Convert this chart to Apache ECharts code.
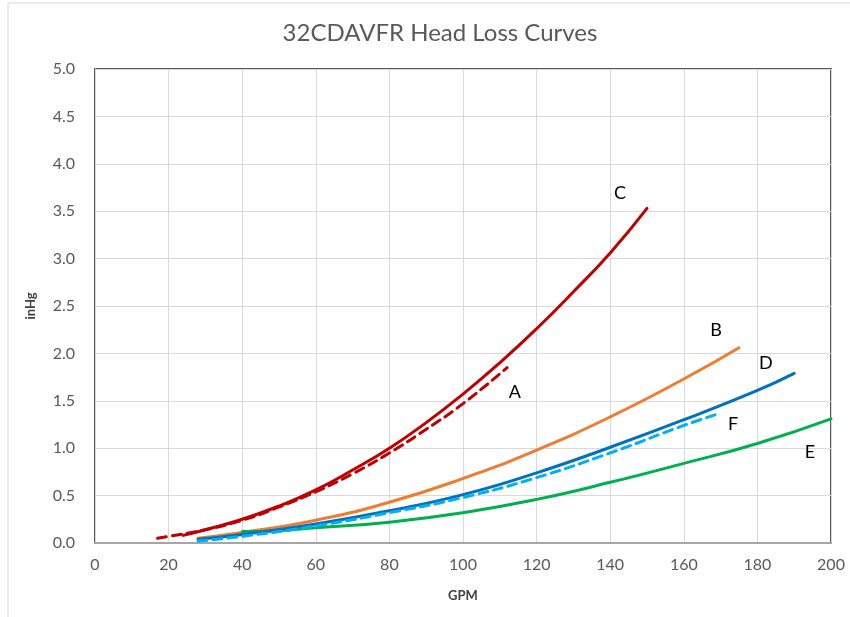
<!DOCTYPE html>
<html>
<head>
    <meta charset="utf-8">
    <title>32CDAVFR Head Loss Curves</title>
    <script src="https://cdn.jsdelivr.net/npm/echarts@6/dist/echarts.min.js"></script>
    <style>
        html, body { margin: 0; padding: 0; background: #fff; }
        #chart { width: 850px; height: 617px; }
    </style>
</head>
<body>
<div id="chart"></div>
<script type="text/javascript">
    // curve data (GPM / inHg)
    var aGpm = [17, 20, 30, 40, 50, 60, 70, 80, 90, 100, 112];
    var aHead = [0.05, 0.07, 0.14, 0.24, 0.38, 0.54, 0.73, 0.95, 1.20, 1.47, 1.85];

    var bGpm = [28, 40, 60, 80, 100, 120, 140, 160, 175];
    var bHead = [0.05, 0.11, 0.24, 0.43, 0.68, 0.98, 1.33, 1.73, 2.06];

    var cGpm = [24, 30, 40, 50, 60, 70, 80, 90, 100, 110, 120, 130, 140, 150];
    var cHead = [0.08, 0.14, 0.25, 0.39, 0.56, 0.77, 1.00, 1.27, 1.57, 1.90, 2.26, 2.65, 3.06, 3.53];

    var dGpm = [28, 40, 60, 80, 100, 120, 140, 160, 180, 190];
    var dHead = [0.04, 0.09, 0.20, 0.34, 0.51, 0.74, 1.01, 1.30, 1.61, 1.79];

    var eGpm = [40, 50, 60, 80, 100, 120, 140, 160, 180, 200];
    var eHead = [0.12, 0.13, 0.16, 0.22, 0.32, 0.46, 0.64, 0.84, 1.05, 1.31];

    var fGpm = [28, 40, 60, 80, 100, 120, 140, 160, 170];
    var fHead = [0.02, 0.07, 0.18, 0.32, 0.48, 0.69, 0.95, 1.24, 1.37];

    // curve letters, placed in data coordinates
    var labelNames = ['A', 'B', 'C', 'D', 'E', 'F'];
    var labelGpm = [114.1, 168.8, 142.7, 182.3, 194.3, 173.4];
    var labelHead = [1.59, 2.25, 3.69, 1.90, 0.96, 1.25];

    var xTicks = [0, 20, 40, 60, 80, 100, 120, 140, 160, 180, 200];
    var yTicks = [0, 0.5, 1, 1.5, 2, 2.5, 3, 3.5, 4, 4.5, 5];

    function pairs(xs, ys) {
        var out = [];
        for (var i = 0; i < xs.length; i++) out.push([xs[i], ys[i]]);
        return out;
    }

    function letter(name) {
        var i = labelNames.indexOf(name);
        return {
            symbol: 'circle',
            symbolSize: 1,
            silent: true,
            itemStyle: { color: 'rgba(0,0,0,0)' },
            label: {
                show: true,
                formatter: name,
                color: '#000',
                fontSize: 18,
                fontFamily: 'Lato',
                position: 'inside'
            },
            data: [{ coord: [labelGpm[i], labelHead[i]] }]
        };
    }

    function curve(name, xs, ys, color, dashed) {
        return {
            name: name,
            type: 'line',
            smooth: true,
            symbol: 'none',
            data: pairs(xs, ys),
            lineStyle: { color: color, width: 3, type: dashed ? [9, 6] : 'solid', cap: 'round' },
            markPoint: letter(name)
        };
    }

    var myChart = echarts.init(document.getElementById('chart'));

    var option = {
        animation: false,
        backgroundColor: '#fff',
        title: {
            text: '32CDAVFR Head Loss Curves',
            left: 435,
            top: 16,
            textAlign: 'center',
            textStyle: { color: '#595959', fontSize: 24, fontWeight: 'normal', fontFamily: 'Lato' }
        },
        graphic: [{
            type: 'rect',
            shape: { x: 8, y: 3, width: 900, height: 700 },
            style: { fill: 'none', stroke: '#d9d9d9', lineWidth: 1 },
            silent: true
        }],
        grid: {
            left: 95, right: 19, top: 69, bottom: 74,
            show: true,
            borderColor: '#595959',
            borderWidth: 2
        },
        xAxis: {
            type: 'value',
            min: 0, max: 200, interval: 20,
            name: 'GPM',
            nameLocation: 'middle',
            nameGap: 46,
            nameTextStyle: { color: '#404040', fontSize: 13, fontWeight: 'bold', fontFamily: 'Lato' },
            axisLine: { lineStyle: { color: '#a6a6a6', width: 2 } },
            axisTick: { show: false },
            axisLabel: {
                color: '#595959', fontSize: 16, fontFamily: 'Lato', margin: 14,
                customValues: xTicks
            },
            splitLine: { lineStyle: { color: '#d9d9d9', width: 1 } }
        },
        yAxis: {
            type: 'value',
            min: 0, max: 5, interval: 0.5,
            name: 'inHg',
            nameLocation: 'middle',
            nameGap: 58,
            nameTextStyle: { color: '#404040', fontSize: 13, fontWeight: 'bold', fontFamily: 'Lato' },
            axisLine: { show: true, lineStyle: { color: '#d9d9d9', width: 1 } },
            axisTick: { show: false },
            axisLabel: {
                color: '#595959', fontSize: 16, fontFamily: 'Lato', margin: 20,
                customValues: yTicks,
                formatter: function (v) { return v.toFixed(1); }
            },
            splitLine: { lineStyle: { color: '#d9d9d9', width: 1 } }
        },
        series: [
            curve('C', cGpm, cHead, '#C00000', false),
            curve('A', aGpm, aHead, '#C00000', true),
            curve('B', bGpm, bHead, '#ED7D31', false),
            curve('E', eGpm, eHead, '#00B050', false),
            curve('D', dGpm, dHead, '#0070C0', false),
            curve('F', fGpm, fHead, '#00B0F0', true)
        ]
    };

    myChart.setOption(option);
</script>
</body>
</html>
